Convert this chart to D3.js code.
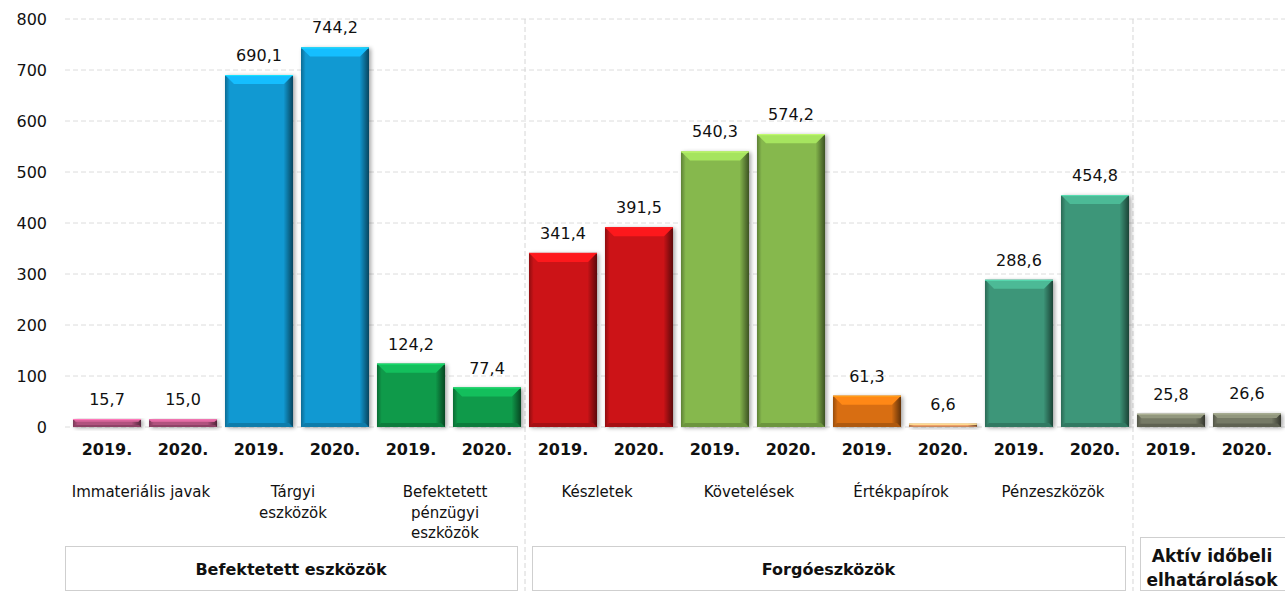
<!DOCTYPE html>
<html>
<head>
<meta charset="utf-8">
<script src="https://cdn.jsdelivr.net/npm/d3@7"></script>
<style>
  body { margin: 0; background: #fff; }
  svg text { font-family: "DejaVu Sans", sans-serif; fill: #111; }
</style>
</head>
<body>
<svg id="chart"></svg>
<script>
// Data
const groups = ["Befektetett eszközök", "Forgóeszközök", "Aktív időbeli elhatárolások"];
const categories = ["Immateriális javak", "Tárgyi eszközök", "Befektetett pénzügyi eszközök",
  "Készletek", "Követelések", "Értékpapírok", "Pénzeszközök", "Aktív időbeli elhatárolások"];
const categoryGroup = [0, 0, 0, 1, 1, 1, 1, 2];
const years = ["2019.", "2020."];
const values2019 = [15.7, 690.1, 124.2, 341.4, 540.3, 61.3, 288.6, 25.8];
const values2020 = [15.0, 744.2, 77.4, 391.5, 574.2, 6.6, 454.8, 26.6];
const yTicks = [0, 100, 200, 300, 400, 500, 600, 700, 800];

// label lines under the years (text only)
const categoryLines = [["Immateriális javak"], ["Tárgyi", "eszközök"], ["Befektetett", "pénzügyi", "eszközök"],
  ["Készletek"], ["Követelések"], ["Értékpapírok"], ["Pénzeszközök"], []];
const groupLines = [["Befektetett eszközök"], ["Forgóeszközök"], ["Aktív időbeli", "elhatárolások"]];

// colours
const colors2019 = ["#b0527e", "#1199d2", "#0f9a4a", "#cc1317", "#86b84d", "#d86e12", "#3d9679", "#767a66"];
const colors2020 = ["#b0527e", "#1199d2", "#0f9a4a", "#cc1317", "#86b84d", "#eda06a", "#3d9679", "#767a66"];

const width = 1285, height = 591;
const svg = d3.select("#chart").attr("width", width).attr("height", height);

// flatten to one bar per category/year
const bars = [];
categories.forEach((c, i) => {
  bars.push({ key: i + "-0", cat: i, year: years[0], value: values2019[i], color: colors2019[i] });
  bars.push({ key: i + "-1", cat: i, year: years[1], value: values2020[i], color: colors2020[i] });
});

const x = d3.scaleBand()
  .domain(bars.map(d => d.key))
  .range([69, 1285])
  .paddingInner(0.105)
  .paddingOuter(0.0526);

const y = d3.scaleLinear().domain([0, 800]).range([427, 19]);
const step = x.step(), bw = x.bandwidth();

// grid lines
svg.append("g")
  .selectAll("line")
  .data(yTicks)
  .join("line")
  .attr("x1", 65).attr("x2", width)
  .attr("y1", d => y(d)).attr("y2", d => y(d))
  .attr("stroke", "#dcdcdc")
  .attr("stroke-dasharray", "5,3");

// y axis labels
svg.append("g")
  .selectAll("text")
  .data(yTicks)
  .join("text")
  .attr("x", 47)
  .attr("y", d => y(d))
  .attr("dy", "0.36em")
  .attr("text-anchor", "end")
  .style("font-size", "16px")
  .text(d => d);

// group separators
const groupBounds = groups.map((g, gi) => {
  const cats = categories.map((c, i) => i).filter(i => categoryGroup[i] === gi);
  const first = x(cats[0] + "-0"), last = x(cats[cats.length - 1] + "-1");
  return { start: first - (step - bw) / 2, end: last + bw + (step - bw) / 2 };
});

svg.append("g")
  .selectAll("line")
  .data(groupBounds.slice(1))
  .join("line")
  .attr("x1", d => d.start).attr("x2", d => d.start)
  .attr("y1", y(800)).attr("y2", height)
  .attr("stroke", "#d6d6d6")
  .attr("stroke-dasharray", "5,3");

// defs: shadow + side shading
const defs = svg.append("defs");
const f = defs.append("filter").attr("id", "shadow").attr("x", "-20%").attr("y", "-20%").attr("width", "150%").attr("height", "150%");
f.append("feGaussianBlur").attr("stdDeviation", 2);

const sideGrad = defs.append("linearGradient").attr("id", "side").attr("x1", 0).attr("x2", 1).attr("y1", 0).attr("y2", 0);
sideGrad.append("stop").attr("offset", "0%").attr("stop-color", "#000").attr("stop-opacity", 0.3);
sideGrad.append("stop").attr("offset", "7%").attr("stop-color", "#000").attr("stop-opacity", 0);
sideGrad.append("stop").attr("offset", "86%").attr("stop-color", "#000").attr("stop-opacity", 0);
sideGrad.append("stop").attr("offset", "100%").attr("stop-color", "#000").attr("stop-opacity", 0.55);

// bars
const barG = svg.append("g")
  .selectAll("g")
  .data(bars)
  .join("g")
  .attr("transform", d => `translate(${x(d.key)},${y(d.value)})`);

barG.append("rect")
  .attr("x", 2).attr("y", 1)
  .attr("width", bw).attr("height", d => y(0) - y(d.value))
  .attr("fill", "#000").attr("opacity", 0.35)
  .attr("filter", "url(#shadow)");

barG.append("rect")
  .attr("width", bw).attr("height", d => y(0) - y(d.value))
  .attr("fill", d => d.color);

barG.append("rect")
  .attr("width", bw).attr("height", d => y(0) - y(d.value))
  .attr("fill", "url(#side)");

// top bevel
barG.append("path")
  .attr("d", d => {
    const h = y(0) - y(d.value), b = Math.min(9, h / 3);
    return `M0,0L${bw},0L${bw - b},${b}L${b},${b}Z`;
  })
  .attr("fill", d => d3.color(d.color).brighter(0.6));

barG.append("line")
  .attr("x1", 0).attr("x2", bw).attr("y1", 0.5).attr("y2", 0.5)
  .attr("stroke", d => d3.color(d.color).brighter(1.1))
  .attr("stroke-width", 1);

// bottom bevel
barG.append("path")
  .attr("d", d => {
    const h = y(0) - y(d.value), b = Math.min(4, h / 4);
    return `M0,${h}L${bw},${h}L${bw - b},${h - b}L${b},${h - b}Z`;
  })
  .attr("fill", d => d3.color(d.color).darker(0.6));

// value labels
svg.append("g")
  .selectAll("text")
  .data(bars)
  .join("text")
  .attr("x", d => x(d.key) + bw / 2)
  .attr("y", d => y(d.value) - 14)
  .attr("text-anchor", "middle")
  .style("font-size", "16px")
  .text(d => d3.format(".1f")(d.value).replace(".", ","));

// year labels
svg.append("g")
  .selectAll("text")
  .data(bars)
  .join("text")
  .attr("x", d => x(d.key) + bw / 2)
  .attr("y", 449)
  .attr("dy", "0.36em")
  .attr("text-anchor", "middle")
  .style("font-size", "16px")
  .style("font-weight", "bold")
  .text(d => d.year);

// category labels
const catG = svg.append("g")
  .selectAll("text")
  .data(categoryLines)
  .join("text")
  .attr("text-anchor", "middle")
  .style("font-size", "15px");

catG.selectAll("tspan")
  .data((lines, i) => lines.map(l => ({ l, i })))
  .join("tspan")
  .attr("x", d => x(d.i + "-1") - (step - bw) / 2 - 4)
  .attr("y", (d, j) => 492 + j * 20.5)
  .attr("dy", "0.36em")
  .text(d => d.l);

// group boxes
const boxes = groupBounds.map((b, i) => ({
  left: i === 0 ? 65 : b.start + 7,
  right: i === groups.length - 1 ? width + 5 : b.end - 8,
  top: i === groups.length - 1 ? 537 : 546,
  lines: groupLines[i]
}));

svg.append("g")
  .selectAll("rect")
  .data(boxes)
  .join("rect")
  .attr("x", d => d.left + 0.5)
  .attr("y", d => d.top + 0.5)
  .attr("width", d => d.right - d.left)
  .attr("height", d => 590 - d.top)
  .attr("fill", "#fff")
  .attr("stroke", "#cfcfcf");

const boxText = svg.append("g")
  .selectAll("text")
  .data(boxes)
  .join("text")
  .attr("text-anchor", "middle")
  .style("font-weight", "bold")
  .style("font-size", d => d.lines.length > 1 ? "17px" : "16px");

boxText.selectAll("tspan")
  .data(d => d.lines.map((l, j) => ({ l, j, d })))
  .join("tspan")
  .attr("x", d => d.d.lines.length > 1 ? 1212 : (d.d.left + d.d.right) / 2)
  .attr("y", d => d.d.lines.length > 1 ? 556 + d.j * 24 : 569)
  .attr("dy", "0.36em")
  .text(d => d.l);
</script>
</body>
</html>
